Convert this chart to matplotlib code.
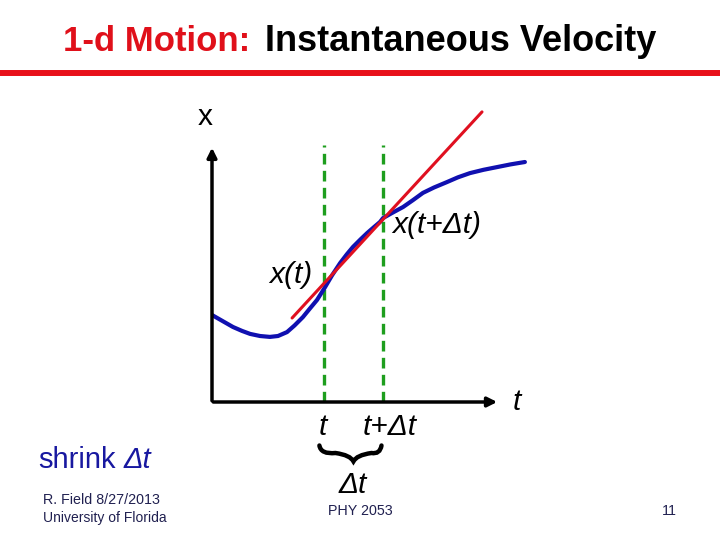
import matplotlib.pyplot as plt
from matplotlib.path import Path
from matplotlib.patches import PathPatch

# curve x(t) (arbitrary units, origin at the axes corner)
curve_t = [0.0, 0.35, 0.7, 1.0, 1.27, 1.6, 1.93, 2.2, 2.5, 2.75, 3.03, 3.25, 3.5, 3.77, 4.0,
           4.27, 4.5, 4.7, 4.95, 5.17, 5.4, 5.6, 5.7, 6.0, 6.37, 6.7, 7.03, 7.4, 7.83,
           8.2, 8.6, 9.05, 9.5, 9.95, 10.43]
curve_x = [2.9, 2.7, 2.5, 2.37, 2.27, 2.2, 2.17, 2.2, 2.33, 2.55, 2.83, 3.1, 3.4, 3.83, 4.22,
           4.63, 4.93, 5.17, 5.42, 5.63, 5.83, 6.0, 6.13, 6.3, 6.5, 6.73, 6.97, 7.15, 7.33,
           7.49, 7.63, 7.74, 7.83, 7.92, 8.0]

# tangent line at t
tangent_t = [2.67, 9.0]
tangent_x = [2.8, 9.67]

# the two times t and t+dt
times = [3.73, 5.7]
axis_top = 8.57
axis_right = 9.6

plt.rcParams['font.family'] = ['Liberation Sans', 'DejaVu Sans']

fig = plt.figure(figsize=(7.2, 5.4), dpi=100)
r = fig.canvas.get_renderer()

# slide header, two colours on one line
fig.text(63/720, 1 - 51/540, '1-d Motion:', color='#e0101a', fontsize=25,
         fontweight='bold', va='baseline', ha='left')
fig.text(265/720, 1 - 51/540, 'Instantaneous Velocity', color='black', fontsize=26,
         fontweight='bold', va='baseline', ha='left')
fig.add_artist(plt.Line2D([0, 1], [1 - 72.5/540, 1 - 72.5/540], color='#e8101a', lw=4.3))

# chart area: 1 unit = 30 px
ax = fig.add_axes([212/720, (540-402)/540, 318/720, 302/540])
ax.set_xlim(0, 318/30)
ax.set_ylim(0, 302/30)
ax.axis('off')

ax.annotate('', xy=(0, axis_top), xytext=(0, -0.05),
            arrowprops=dict(arrowstyle='-|>', color='black', lw=2.5, mutation_scale=14))
ax.annotate('', xy=(axis_right, 0), xytext=(-0.05, 0),
            arrowprops=dict(arrowstyle='-|>', color='black', lw=2.5, mutation_scale=14))

for tt in times:
    ax.plot([tt, tt], [0, axis_top], color='#1e9e1e', lw=2.4, ls=(0, (3.2, 1.9)))

ax.plot(curve_t, curve_x, color='#1010b0', lw=3.0, solid_capstyle='round', solid_joinstyle='round')
ax.plot(tangent_t, tangent_x, color='#e01020', lw=2.2, solid_capstyle='round')

lab = dict(fontsize=21.5, style='italic', va='center', clip_on=False)
ax.text(-0.23, 9.5, 'x', fontsize=21.5, ha='center', va='center', clip_on=False)
ax.text(6.0, 5.9, 'x(t+\u0394t)', ha='left', **lab)
ax.text(1.9, 4.23, 'x(t)', ha='left', **lab)
ax.text(10.17, 0.0, 't', ha='center', **lab)
ax.text(3.7, -0.83, 't', ha='center', **lab)
ax.text(5.93, -0.83, 't+\u0394t', ha='center', **lab)
ax.text(4.7, -2.77, '\u0394t', ha='center', **lab)

# brace under the interval
mid = (times[0] + times[1]) / 2
a, b = times[0] - 0.15, times[1] - 0.05
top, low = -1.45, -1.98
verts = [(a, top), (a + 0.05, top - 0.3), (mid - 0.6, top - 0.25), (mid - 0.1, top - 0.32),
         (mid, low), (mid + 0.1, top - 0.32), (mid + 0.6, top - 0.25),
         (b - 0.05, top - 0.3), (b, top)]
codes = [Path.MOVETO, Path.CURVE3, Path.CURVE3, Path.CURVE3, Path.CURVE3,
         Path.CURVE3, Path.CURVE3, Path.CURVE3, Path.CURVE3]
ax.add_patch(PathPatch(Path(verts, codes), fill=False, lw=3.2, color='black',
                       capstyle='round', clip_on=False))

# slide footer
s1 = fig.text(38/720, 1 - 460/540, 'shrink', color='#1818a0', fontsize=21, va='center', ha='left')
x1 = s1.get_window_extent(renderer=r).x1
fig.text((x1 + 8) / fig.bbox.width, 1 - 460/540, '\u0394t', color='#1818a0', fontsize=21,
         style='italic', va='center', ha='left')
fig.text(43/720, 1 - 500/540, 'R. Field 8/27/2013', color='#202050', fontsize=10.3, va='center', ha='left')
fig.text(43/720, 1 - 518/540, 'University of Florida', color='#202050', fontsize=10.0, va='center', ha='left')
fig.text(360/720, 1 - 511/540, 'PHY 2053', color='#202050', fontsize=10.3, va='center', ha='center')
fig.text(677/720, 1 - 511/540, '11', color='#202050', fontsize=10.3, va='center', ha='right')

fig.savefig('out.png', dpi=100)
